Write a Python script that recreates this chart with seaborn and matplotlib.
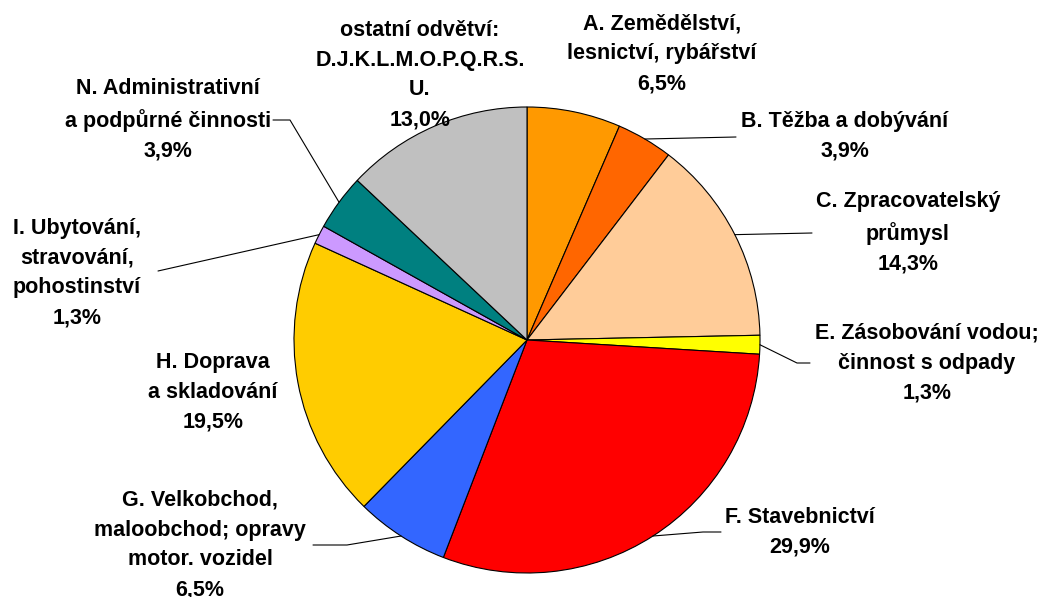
import numpy as np
import matplotlib
matplotlib.use("Agg")
import matplotlib.pyplot as plt
import seaborn as sns

# data
sectors = [
    "A. Zemědělství,\nlesnictví, rybářství",
    "B. Těžba a dobývání",
    "C. Zpracovatelský\nprůmysl",
    "E. Zásobování vodou;\nčinnost s odpady",
    "F. Stavebnictví",
    "G. Velkobchod,\nmaloobchod; opravy\nmotor. vozidel",
    "H. Doprava\na skladování",
    "I. Ubytování,\nstravování,\npohostinství",
    "N. Administrativní\na podpůrné činnosti",
    "ostatní odvětví:\nD.J.K.L.M.O.P.Q.R.S.\nU.",
]
shares = [6.5, 3.9, 14.3, 1.3, 29.9, 6.5, 19.5, 1.3, 3.9, 13.0]
colors = ["#FF9900", "#FF6600", "#FFCC99", "#FFFF00", "#FF0000",
          "#3366FF", "#FFCC00", "#CC99FF", "#008080", "#C0C0C0"]

# layout in pixels (y measured from top)
W, H = 1042, 597
cx, cy, r = 527, 340, 233
label_pos = [(662, 54), (845, 136), (908, 233), (927, 363), (800, 532),
             (200, 545), (213, 392), (77, 273), (168, 120), (420, 75)]
# leader line points from the text side (None = no leader)
leaders = [None, [(736, 137)], [(812, 233)], [(810, 363), (797, 363)],
           [(721, 532), (703, 532)], [(313, 545), (347, 545)], None,
           [(158, 271)], [(273, 120), (290, 120)], None]

sns.set_theme(style="white")
plt.rcParams["font.family"] = ["Liberation Sans", "DejaVu Sans"]

fig = plt.figure(figsize=(W / 100, H / 100), dpi=100)
ax = fig.add_axes([0, 0, 1, 1])

wedges, _ = ax.pie(shares, colors=colors, startangle=90, counterclock=False,
                   center=(cx, H - cy), radius=r, frame=True,
                   wedgeprops=dict(edgecolor="black", linewidth=0.8))
ax.set_xlim(0, W)
ax.set_ylim(0, H)
ax.set_aspect("equal")
ax.axis("off")

for w, name, val, pos, lead in zip(wedges, sectors, shares, label_pos, leaders):
    txt = name + "\n" + f"{val:.1f}%".replace(".", ",")
    ax.text(pos[0], H - pos[1], txt, ha="center", va="center",
            multialignment="center", fontsize=15.5, fontweight="bold",
            linespacing=1.55, color="black")
    if lead:
        mid = np.deg2rad((w.theta1 + w.theta2) / 2)
        px = cx + r * np.cos(mid)
        py = (H - cy) + r * np.sin(mid)
        xs = [p[0] for p in lead] + [px]
        ys = [H - p[1] for p in lead] + [py]
        ax.plot(xs, ys, color="black", linewidth=0.8)

fig.savefig("out.png", dpi=100, facecolor="white")
